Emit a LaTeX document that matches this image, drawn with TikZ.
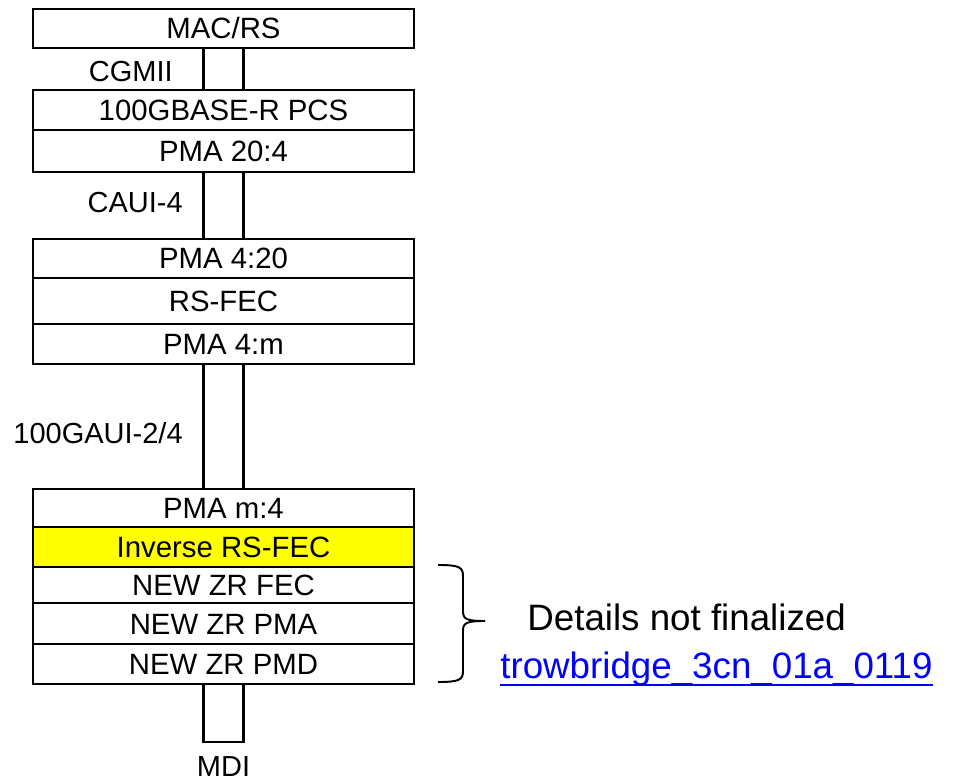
\documentclass[tikz,border=0pt]{standalone}
\usepackage{fontspec}
\setmainfont{Liberation Sans}
\usetikzlibrary{positioning}
\definecolor{FecYellow}{RGB}{255,255,0}
\definecolor{LinkBlue}{RGB}{0,0,255}
\tikzset{
	layer/.style={draw=black, line width=1.5pt, fill=white, minimum width=7.62cm,
		inner sep=0pt, outer sep=0pt, text height=0.42cm, text depth=0pt,
		font=\fontsize{16.7}{20}\selectfont, anchor=north},
	hilite/.style={layer, fill=FecYellow},
	pipe/.style={draw=black, line width=1.5pt, fill=white},
	iflabel/.style={font=\fontsize{16.5}{20}\selectfont, anchor=east, inner sep=0pt},
	bracket/.style={black, line width=1.1pt},
	note/.style={font=\fontsize{20.9}{25}\selectfont, anchor=base west, inner sep=0pt},
	weblink/.style={note, text=LinkBlue},
}

\begin{document}
\begin{tikzpicture}
		\useasboundingbox (0,0) rectangle (19.24,-15.62);
		
		% host side
		\node[layer, minimum height=0.78cm] (mac) at (4.47,-0.18) {MAC/RS};
		\node[layer, minimum height=0.80cm] (pcs) at (4.47,-1.80) {100GBASE-R PCS};
		\node[layer, minimum height=0.84cm, below=0pt of pcs] (pma204) {PMA 20:4};
		
		% module side, first stack
		\node[layer, minimum height=0.78cm] (pma420) at (4.47,-4.78) {PMA 4:20};
		\node[layer, minimum height=0.92cm, below=0pt of pma420] (rsfec) {RS-FEC};
		\node[layer, minimum height=0.80cm, below=0pt of rsfec] (pma4m) {PMA 4:m};
		
		% ZR stack
		\node[layer, minimum height=0.76cm] (pmam4) at (4.47,-9.78) {PMA m:4};
		\node[hilite, minimum height=0.80cm, below=0pt of pmam4] (invfec) {Inverse RS-FEC};
		\node[layer, minimum height=0.72cm, below=0pt of invfec] (zrfec) {NEW ZR FEC};
		\node[layer, minimum height=0.82cm, below=0pt of zrfec] (zrpma) {NEW ZR PMA};
		\node[layer, minimum height=0.80cm, below=0pt of zrpma] (zrpmd) {NEW ZR PMD};
		
		% interfaces
		\draw[pipe] ([xshift=-0.4cm]mac.south) rectangle ([xshift=0.4cm]pcs.north);
		\draw[pipe] ([xshift=-0.4cm]pma204.south) rectangle ([xshift=0.4cm]pma420.north);
		\draw[pipe] ([xshift=-0.4cm]pma4m.south) rectangle ([xshift=0.4cm]pmam4.north);
		\coordinate (mdiend) at (4.87,-14.84);
		\draw[pipe] ([xshift=-0.4cm]zrpmd.south) rectangle (mdiend);
		
		\node[iflabel] (cgmii) at (3.46,-1.44) {CGMII};
		\node[iflabel] (caui) at (3.66,-4.06) {CAUI-4};
		\node[iflabel] (gaui) at (3.66,-8.66) {100GAUI-2/4};
		\node[iflabel, anchor=center] (mdi) at (4.47,-15.34) {MDI};
		
		% brace over the new ZR layers
		\coordinate (btop) at (8.76,-11.30);
		\coordinate (btip) at (9.70,-12.42);
		\coordinate (bbot) at (8.76,-13.64);
		\draw[bracket] (btop) .. controls (9.18,-11.30) and (9.26,-11.34) .. (9.26,-11.52)
			-- (9.26,-12.22) .. controls (9.26,-12.38) and (9.32,-12.42) .. (btip);
		\draw[bracket] (bbot) .. controls (9.18,-13.64) and (9.26,-13.60) .. (9.26,-13.42)
			-- (9.26,-12.62) .. controls (9.26,-12.46) and (9.32,-12.42) .. (btip);
		
		\node[note] (details) at (10.54,-12.60) {Details not finalized};
		\node[weblink] (ref) at (10.0,-13.56) {trowbridge\_3cn\_01a\_0119};
		\draw[LinkBlue, line width=1.1pt] ([yshift=-0.14cm]ref.base west) -- ([yshift=-0.14cm]ref.base east);
	\end{tikzpicture}
\end{document}
